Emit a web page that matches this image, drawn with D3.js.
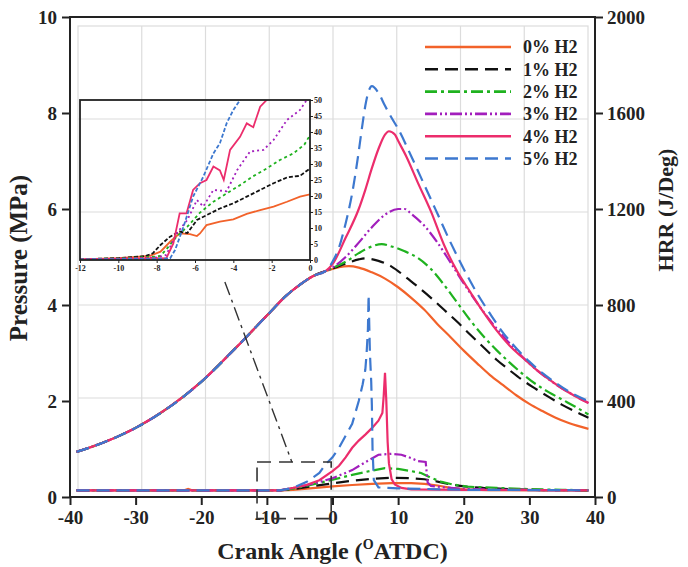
<!DOCTYPE html>
<html>
<head>
<meta charset="utf-8">
<script src="https://cdn.jsdelivr.net/npm/d3@7"></script>
<style>
  body { margin: 0; background: #fff; }
  svg { display: block; font-family: "Liberation Serif", "Times New Roman", serif; font-weight: bold; }
</style>
</head>
<body>
<div id="chart"></div>
<script>
// ---- data ----
const seriesLabels = ["0% H2", "1% H2", "2% H2", "3% H2", "4% H2", "5% H2"];

const xTicks = [-40, -30, -20, -10, 0, 10, 20, 30, 40];
const pTicks = [0, 2, 4, 6, 8, 10];
const hrrTicks = [0, 400, 800, 1200, 1600, 2000];
const insetXTicks = [-12, -10, -8, -6, -4, -2, 0];
const insetYTicks = [0, 5, 10, 15, 20, 25, 30, 35, 40, 45, 50];

// common compression part of the pressure trace (deg, MPa)
const compression = [[-39, 0.94], [-35, 1.13], [-30, 1.44], [-25, 1.86], [-20, 2.40], [-15, 3.07],
  [-10, 3.78], [-7, 4.20], [-5, 4.42], [-3, 4.60], [-1, 4.71]];

// pressure after TDC, one array per blend
const pressure0 = [[0, 4.75], [1, 4.79], [2.5, 4.81], [4, 4.78], [6, 4.68], [8, 4.55], [10, 4.37], [12, 4.15],
  [14, 3.9], [16, 3.6], [18, 3.33], [20, 3.05], [22, 2.79], [24, 2.54], [26, 2.33], [28, 2.12], [30, 1.94],
  [32, 1.79], [34, 1.65], [36, 1.54], [39, 1.42]];
const pressure1 = [[0, 4.76], [2, 4.86], [4, 4.95], [5, 4.97], [7, 4.92], [9, 4.8], [11, 4.6], [13, 4.38],
  [15, 4.15], [17, 3.9], [19, 3.65], [21, 3.38], [23, 3.12], [25, 2.86], [27, 2.64], [29, 2.43], [31, 2.25],
  [33, 2.08], [35, 1.92], [37, 1.78], [39, 1.65]];
const pressure2 = [[0, 4.77], [2, 4.9], [4, 5.08], [6, 5.22], [7.5, 5.27], [9, 5.22], [11, 5.12], [13, 4.98],
  [15, 4.75], [17, 4.42], [19, 4.05], [21, 3.68], [23, 3.35], [25, 3.06], [27, 2.8], [29, 2.56], [31, 2.35],
  [33, 2.18], [35, 2.03], [37, 1.88], [39, 1.72]];
const pressure3 = [[0, 4.78], [2, 5.0], [4, 5.3], [6, 5.62], [8, 5.88], [10, 6.0], [11, 6.0], [12, 5.9],
  [14, 5.65], [16, 5.3], [18, 4.88], [20, 4.45], [22, 4.05], [24, 3.68], [26, 3.35], [28, 3.05], [30, 2.78],
  [32, 2.55], [34, 2.35], [36, 2.18], [39, 1.96]];
const pressure4 = [[0, 4.85], [2, 5.4], [4, 6.0], [5, 6.4], [6, 6.85], [7, 7.25], [8, 7.55], [8.6, 7.62],
  [9.5, 7.55], [10, 7.42], [11.3, 7.08], [13, 6.55], [15, 5.95], [17, 5.25], [19, 4.7], [21, 4.27], [23, 3.85],
  [25, 3.47], [27, 3.15], [29, 2.9], [31, 2.66], [33, 2.45], [35, 2.26], [37, 2.1], [39, 1.96]];
const pressure5 = [[0, 4.9], [1, 5.2], [2, 5.7], [3, 6.33], [4, 7.2], [4.5, 7.7], [5, 8.15], [5.5, 8.45],
  [6, 8.56], [7, 8.42], [8, 8.15], [9, 7.9], [10, 7.67], [12, 7.1], [14, 6.5], [16, 5.9], [18, 5.3], [20, 4.75],
  [22, 4.25], [24, 3.82], [26, 3.42], [28, 3.1], [30, 2.82], [32, 2.58], [34, 2.38], [36, 2.2], [39, 2.0]];

// heat release rate (deg, J/Deg)
const hrr0 = [[-39, 28], [-22.6, 28], [-22, 34], [-21.4, 28], [-8, 28], [-6, 30], [-3, 37], [0, 44], [3, 50],
  [6, 55], [9, 58], [12, 58], [14, 55], [16, 48], [18, 38], [20, 32], [24, 29], [39, 28]];
const hrr1 = [[-39, 28], [-8, 28], [-6, 33], [-3, 45], [0, 57], [3, 68], [6, 76], [9, 80], [12, 78], [14, 74],
  [16, 64], [18, 52], [20, 44], [23, 38], [27, 33], [32, 29], [39, 28]];
const hrr2 = [[-39, 28], [-8, 28], [-6, 35], [-3, 52], [0, 72], [3, 92], [6, 110], [8, 120], [10, 117], [12, 108],
  [13.5, 100], [15, 80], [16.5, 64], [18, 54], [20.5, 43], [25, 38], [30, 33], [35, 30], [39, 28]];
const hrr3 = [[-39, 28], [-8, 28], [-6, 38], [-3, 55], [0, 78], [3, 112], [5, 145], [7, 176], [9, 180],
  [10.5, 176], [12, 162], [13, 150], [14.2, 146], [14.5, 60], [15, 46], [17, 40], [20, 34], [25, 30], [39, 28]];
const hrr4 = [[-39, 28], [-8, 28], [-6, 38], [-4, 50], [-2, 70], [0, 108], [1, 130], [2, 165], [3, 205], [4, 235],
  [5, 260], [6, 287], [7, 318], [7.6, 350], [7.8, 420], [8, 517], [8.2, 400], [8.4, 230], [8.6, 140], [9, 75],
  [9.5, 52], [10.5, 38], [12, 32], [20, 30], [39, 28]];
const hrr5 = [[-39, 28], [-8, 28], [-6, 38], [-4, 62], [-2, 100], [-1, 138], [0, 165], [1, 205], [2, 255],
  [3, 305], [4, 400], [4.6, 470], [5, 530], [5.2, 600], [5.4, 700], [5.5, 842], [5.6, 720], [5.7, 600],
  [5.9, 480], [6.0, 380], [6.1, 200], [6.3, 70], [7, 40], [10, 36], [20, 30], [39, 28]];

// inset: HRR between -12 and 0 deg
const insetHrr0 = [[-12, 0.2], [-10, 0.6], [-8.35, 1.3], [-7.8, 2.6], [-7.3, 5.7], [-6.8, 8.3], [-6.26, 8.1],
  [-5.9, 7.5], [-5.74, 8.3], [-5.4, 10.9], [-4.7, 12], [-4.0, 12.7], [-3.3, 14.4], [-2.6, 15.6], [-1.9, 16.7],
  [-1.2, 18.2], [-0.52, 19.8], [0, 20.5]];
const insetHrr1 = [[-12, 0.2], [-10, 0.6], [-8.6, 1.2], [-8.2, 2.1], [-7.8, 4.7], [-7.3, 7.3], [-6.8, 8.9],
  [-6.4, 8.4], [-5.9, 12.5], [-5.4, 14], [-4.7, 16.1], [-4.0, 17.7], [-3.3, 19.8], [-2.6, 21.9], [-1.9, 24],
  [-1.2, 25.8], [-0.52, 26.3], [0, 28.6]];
const insetHrr2 = [[-12, 0.2], [-10, 0.5], [-8.2, 1], [-7.8, 1.25], [-7.5, 3.3], [-6.96, 7.3], [-6.4, 10.4],
  [-5.74, 14.8], [-5.04, 18.2], [-4.35, 20.8], [-3.65, 23.4], [-2.96, 26.2], [-2.26, 28.6], [-1.57, 31.25],
  [-0.87, 33.3], [-0.3, 36], [0, 39]];
const insetHrr3 = [[-12, 0.2], [-10, 0.4], [-8, 0.8], [-7.5, 1.6], [-6.96, 8.3], [-6.4, 12.5], [-5.9, 18.75],
  [-5.57, 16.7], [-5.04, 21.9], [-4.35, 21.5], [-3.8, 28.1], [-3.13, 33.9], [-2.43, 34.4], [-1.9, 37.5],
  [-1.2, 43.75], [-0.52, 46.9], [-0.17, 50], [0, 52]];
const insetHrr4 = [[-12, 0.2], [-10, 0.4], [-8, 0.6], [-7.5, 0.5], [-7.13, 5.2], [-6.8, 14.6], [-6.44, 14.6],
  [-6.1, 21.9], [-5.74, 24], [-5.4, 25], [-5.04, 29.2], [-4.7, 28], [-4.5, 25], [-4.17, 34.4], [-3.65, 38.5],
  [-3.3, 42.7], [-2.96, 41.5], [-2.6, 47.9], [-2.26, 50], [-2, 53]];
const insetHrr5 = [[-12, 0.2], [-10, 0.3], [-8, 0.4], [-7.3, 0.5], [-7.04, 3.1], [-6.6, 10.4], [-6.1, 19.8],
  [-5.57, 26], [-5.04, 33.3], [-4.7, 36.5], [-4.35, 42.7], [-4.0, 46.9], [-3.65, 50], [-3.4, 53]];

// zoom marker (deg, MPa)
const zoomBoxX = [-11.5, -0.2];
const zoomBoxP = [-0.45, 0.73];
const connector = [[-16.4, 4.48], [-6.2, 0.73]];

// ---- styles ----
const colors = ["#f2622a", "#111111", "#1fb21f", "#a21ebc", "#ec2d6c", "#3d78cf"];
const dashes = [null, "13,7", "12,4,3,4", "12,3,2,3,2,3", null, "13,7"];
const insetDashes = [null, "4,2", "3,3", "2,3", null, "4,2"];

const pressures = [pressure0, pressure1, pressure2, pressure3, pressure4, pressure5]
  .map(tail => compression.concat(tail));
const hrrs = [hrr0, hrr1, hrr2, hrr3, hrr4, hrr5];
const insetHrrs = [insetHrr0, insetHrr1, insetHrr2, insetHrr3, insetHrr4, insetHrr5];

const W = 688, H = 567;
const svg = d3.select("#chart").append("svg").attr("width", W).attr("height", H);

// main scales
const x = d3.scaleLinear().domain([-40, 40]).range([70, 595]);
const yP = d3.scaleLinear().domain([0, 10]).range([497, 17]);
const yH = d3.scaleLinear().domain([0, 2000]).range([497, 17]);
// grid sits on an inner frame, slightly inset from the axes
const gx = d3.scaleLinear().domain([-40, 40]).range([78, 588]);
const gy = d3.scaleLinear().domain([0, 10]).range([491, 26]);

// grid
const grid = svg.append("g").attr("stroke", "#dcdcdc").attr("stroke-width", 1.2).attr("fill", "none");
grid.selectAll(".gv").data(xTicks.slice(1, -1)).join("line")
  .attr("x1", d => gx(d)).attr("x2", d => gx(d)).attr("y1", gy(0)).attr("y2", gy(10));
grid.selectAll(".gh").data(pTicks.slice(1, -1)).join("line")
  .attr("y1", d => gy(d)).attr("y2", d => gy(d)).attr("x1", gx(-40)).attr("x2", gx(40));
grid.append("rect").attr("x", gx(-40)).attr("y", gy(10))
  .attr("width", gx(40) - gx(-40)).attr("height", gy(0) - gy(10));

// lines
const lineP = d3.line().x(d => x(d[0])).y(d => yP(d[1])).curve(d3.curveMonotoneX);
const lineH = d3.line().x(d => x(d[0])).y(d => yH(d[1]));

const plot = svg.append("g");
hrrs.forEach((s, i) => {
  plot.append("path").datum(s).attr("d", lineH)
    .attr("fill", "none").attr("stroke", colors[i]).attr("stroke-width", 2.2)
    .attr("stroke-dasharray", dashes[i]);
});
pressures.forEach((s, i) => {
  plot.append("path").datum(s).attr("d", lineP)
    .attr("fill", "none").attr("stroke", colors[i]).attr("stroke-width", 2.2)
    .attr("stroke-dasharray", dashes[i]);
});

// axes
const plain = d => String(d); // hyphen minus, no thousands separator
const tickFont = g => g.selectAll("text")
  .attr("font-family", "Liberation Serif, Times New Roman, serif")
  .attr("font-weight", "bold").attr("font-size", 19).attr("fill", "#222");

svg.append("g").attr("transform", `translate(0,${yP(0)})`)
  .call(d3.axisBottom(x).tickValues(xTicks).tickFormat(plain).tickSize(8).tickSizeOuter(0).tickPadding(6))
  .call(g => g.select(".domain").remove())
  .call(g => g.selectAll("line").attr("stroke", "#222").attr("stroke-width", 2))
  .call(tickFont);
svg.append("g").attr("transform", `translate(${x(-40)},0)`)
  .call(d3.axisLeft(yP).tickValues(pTicks).tickFormat(plain).tickSize(8).tickSizeOuter(0).tickPadding(5))
  .call(g => g.select(".domain").remove())
  .call(g => g.selectAll("line").attr("stroke", "#222").attr("stroke-width", 2))
  .call(tickFont);
svg.append("g").attr("transform", `translate(${x(40)},0)`)
  .call(d3.axisRight(yH).tickValues(hrrTicks).tickFormat(plain).tickSize(8).tickSizeOuter(0).tickPadding(4))
  .call(g => g.select(".domain").remove())
  .call(g => g.selectAll("line").attr("stroke", "#222").attr("stroke-width", 2))
  .call(tickFont);

svg.append("rect").attr("x", x(-40)).attr("y", yP(10))
  .attr("width", x(40) - x(-40)).attr("height", yP(0) - yP(10))
  .attr("fill", "none").attr("stroke", "#222").attr("stroke-width", 2);

// axis titles
svg.append("text").attr("transform", `translate(27,258) rotate(-90)`)
  .attr("text-anchor", "middle").attr("font-size", 25).attr("fill", "#222")
  .text("Pressure (MPa)");
svg.append("text").attr("transform", `translate(673,210) rotate(-90)`)
  .attr("text-anchor", "middle").attr("font-size", 22).attr("fill", "#222")
  .text("HRR (J/Deg)");
const xt = svg.append("text").attr("x", x(0)).attr("y", 559)
  .attr("text-anchor", "middle").attr("font-size", 24).attr("fill", "#222");
xt.append("tspan").text("Crank Angle (");
xt.append("tspan").attr("font-size", 14).attr("dy", -10).text("O");
xt.append("tspan").attr("dy", 10).text("ATDC)");

// zoom marker
svg.append("rect")
  .attr("x", x(zoomBoxX[0])).attr("y", yP(zoomBoxP[1]))
  .attr("width", x(zoomBoxX[1]) - x(zoomBoxX[0])).attr("height", yP(zoomBoxP[0]) - yP(zoomBoxP[1]))
  .attr("fill", "none").attr("stroke", "#333").attr("stroke-width", 1.6).attr("stroke-dasharray", "14,8");
svg.append("path").datum(connector).attr("d", d3.line().x(d => x(d[0])).y(d => yP(d[1])))
  .attr("fill", "none").attr("stroke", "#333").attr("stroke-width", 1.4).attr("stroke-dasharray", "14,5,3,5");

// legend
const legend = svg.append("g");
seriesLabels.forEach((lab, i) => {
  const yy = 47 + i * 22.3;
  legend.append("line").attr("x1", 425).attr("x2", 511).attr("y1", yy).attr("y2", yy)
    .attr("stroke", colors[i]).attr("stroke-width", 2.6).attr("stroke-dasharray", dashes[i]);
  legend.append("text").attr("x", 523).attr("y", yy).attr("dy", "0.35em")
    .attr("font-size", 18).attr("fill", "#222").text(lab);
});

// inset
const ix = d3.scaleLinear().domain([-12, 0]).range([80, 310]);
const iy = d3.scaleLinear().domain([0, 50]).range([260, 100]);
const inset = svg.append("g");
inset.append("clipPath").attr("id", "insetClip").append("rect")
  .attr("x", ix(-12)).attr("y", iy(50)).attr("width", ix(0) - ix(-12)).attr("height", iy(0) - iy(50));
const lineI = d3.line().x(d => ix(d[0])).y(d => iy(d[1]));
const insetLines = inset.append("g").attr("clip-path", "url(#insetClip)");
insetHrrs.forEach((s, i) => {
  insetLines.append("path").datum(s).attr("d", lineI)
    .attr("fill", "none").attr("stroke", colors[i]).attr("stroke-width", 1.8)
    .attr("stroke-dasharray", insetDashes[i]);
});
const insetFont = g => g.selectAll("text")
  .attr("font-family", "Liberation Serif, Times New Roman, serif")
  .attr("font-weight", "bold").attr("font-size", 8).attr("fill", "#222");
inset.append("g").attr("transform", `translate(0,${iy(0)})`)
  .call(d3.axisBottom(ix).tickValues(insetXTicks).tickFormat(plain).tickSize(3).tickSizeOuter(0).tickPadding(2))
  .call(g => g.select(".domain").remove())
  .call(g => g.selectAll("line").attr("stroke", "#222"))
  .call(insetFont);
inset.append("g").attr("transform", `translate(${ix(0)},0)`)
  .call(d3.axisRight(iy).tickValues(insetYTicks).tickFormat(plain).tickSize(3).tickSizeOuter(0).tickPadding(1))
  .call(g => g.select(".domain").remove())
  .call(g => g.selectAll("line").attr("stroke", "#222"))
  .call(insetFont);
inset.append("rect").attr("x", ix(-12)).attr("y", iy(50))
  .attr("width", ix(0) - ix(-12)).attr("height", iy(0) - iy(50))
  .attr("fill", "none").attr("stroke", "#222").attr("stroke-width", 1.8);
</script>
</body>
</html>
